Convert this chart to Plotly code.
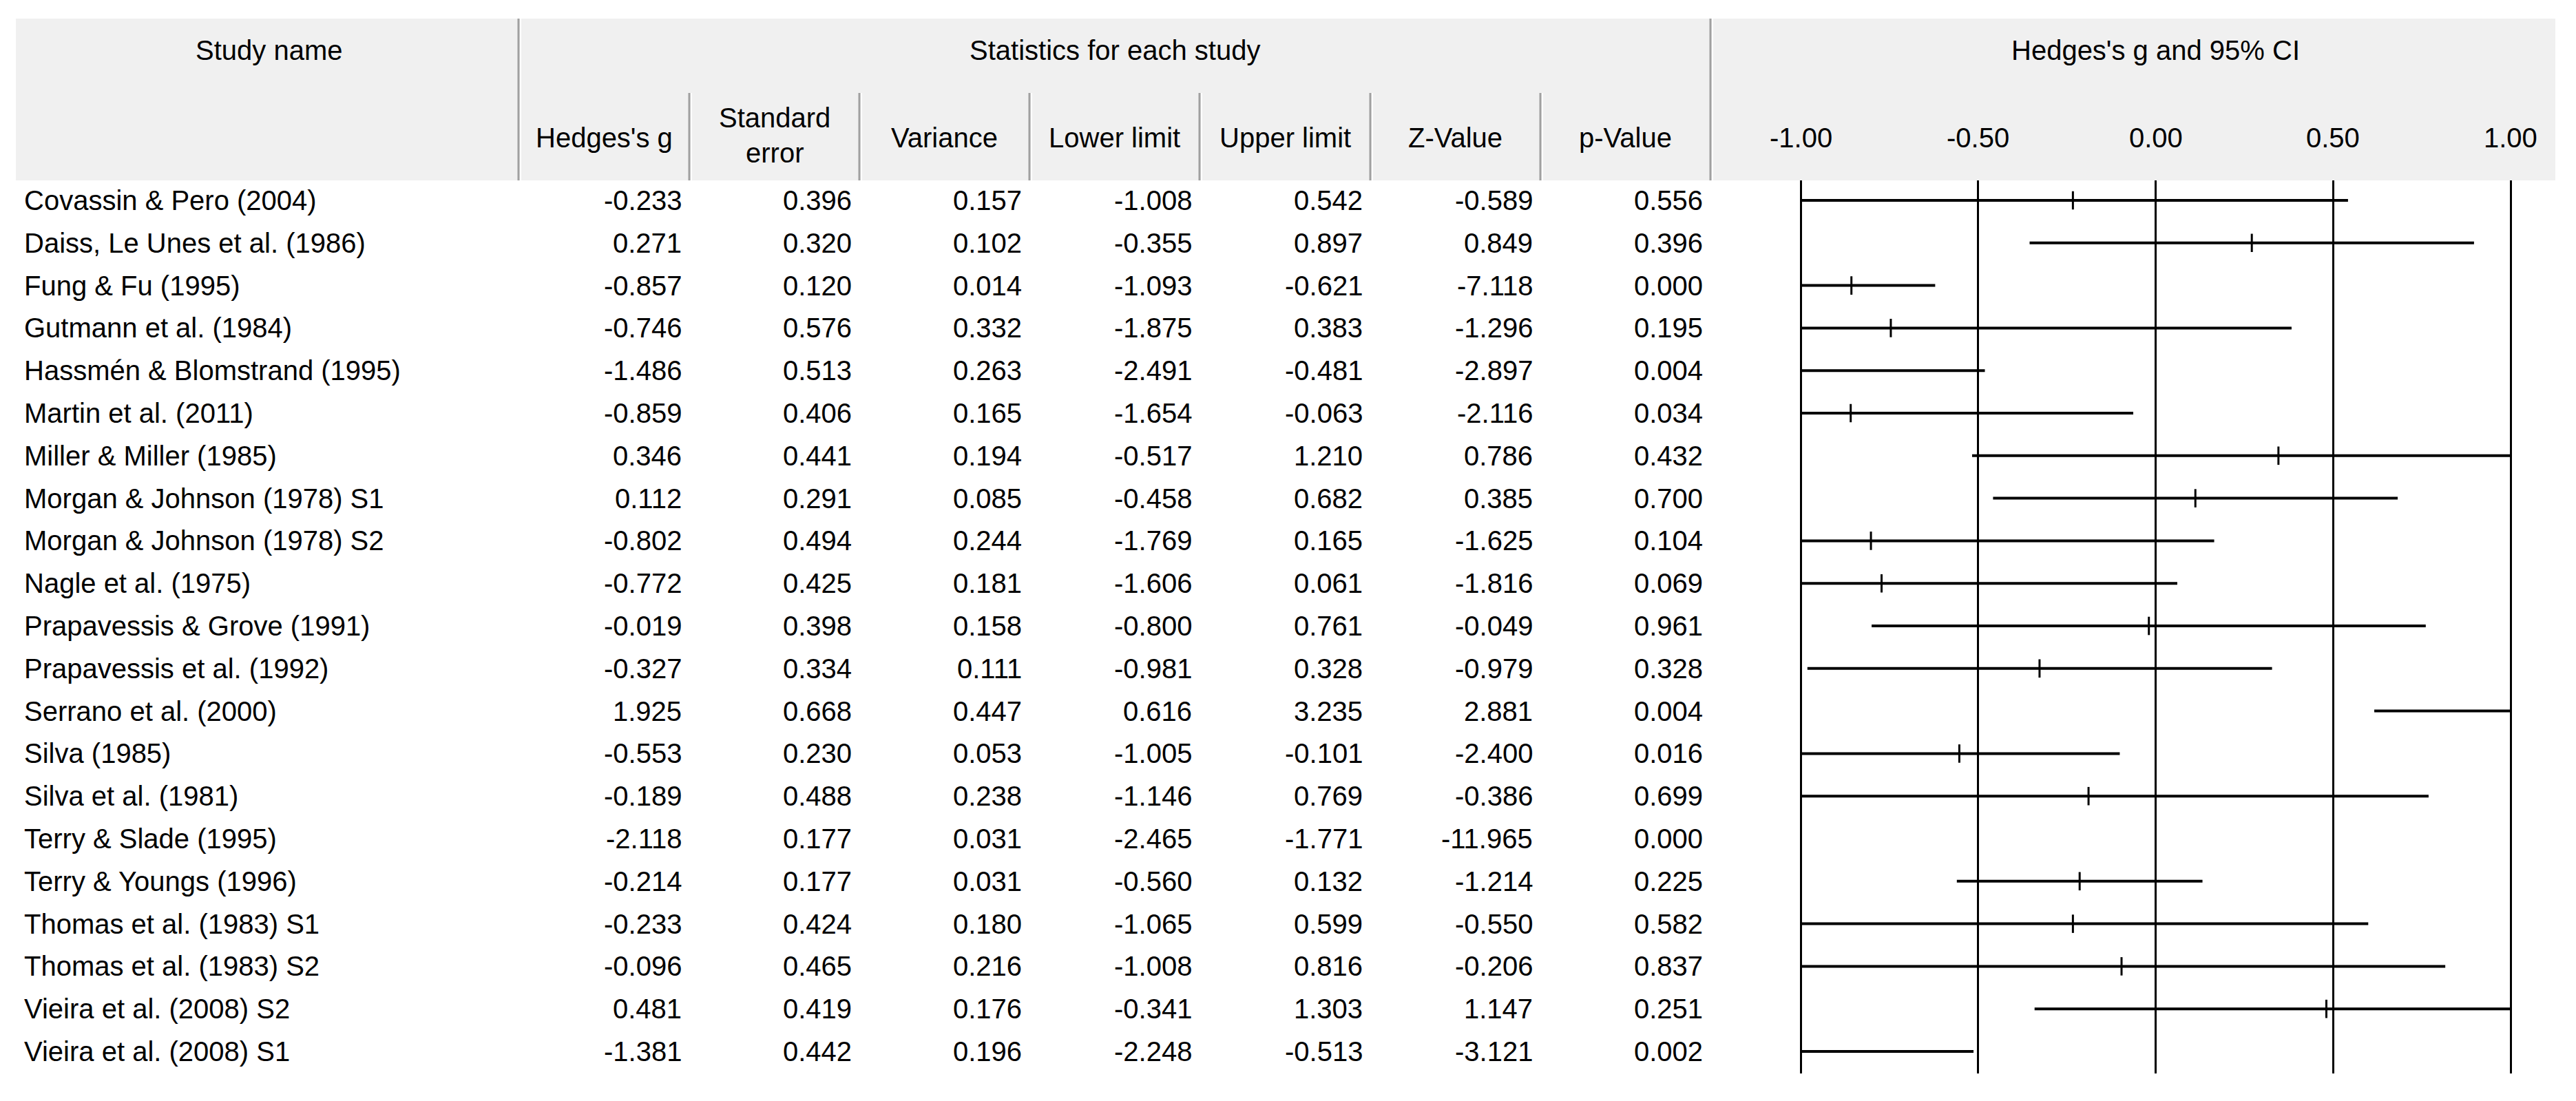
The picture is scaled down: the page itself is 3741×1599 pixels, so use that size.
import numpy as np
import plotly.graph_objects as go

# ---------------- data ----------------
studies = ["Covassin & Pero (2004)", "Daiss, Le Unes et al. (1986)", "Fung & Fu (1995)",
           "Gutmann et al. (1984)", "Hassmén & Blomstrand (1995)", "Martin et al. (2011)",
           "Miller & Miller (1985)", "Morgan & Johnson (1978) S1", "Morgan & Johnson (1978) S2",
           "Nagle et al. (1975)", "Prapavessis & Grove (1991)", "Prapavessis et al. (1992)",
           "Serrano et al. (2000)", "Silva (1985)", "Silva et al. (1981)", "Terry & Slade (1995)",
           "Terry & Youngs (1996)", "Thomas et al. (1983) S1", "Thomas et al. (1983) S2",
           "Vieira et al. (2008) S2", "Vieira et al. (2008) S1"]
hedges_g = [-0.233, 0.271, -0.857, -0.746, -1.486, -0.859, 0.346, 0.112, -0.802, -0.772, -0.019,
            -0.327, 1.925, -0.553, -0.189, -2.118, -0.214, -0.233, -0.096, 0.481, -1.381]
std_err = [0.396, 0.320, 0.120, 0.576, 0.513, 0.406, 0.441, 0.291, 0.494, 0.425, 0.398,
           0.334, 0.668, 0.230, 0.488, 0.177, 0.177, 0.424, 0.465, 0.419, 0.442]
variance = [0.157, 0.102, 0.014, 0.332, 0.263, 0.165, 0.194, 0.085, 0.244, 0.181, 0.158,
            0.111, 0.447, 0.053, 0.238, 0.031, 0.031, 0.180, 0.216, 0.176, 0.196]
lower = [-1.008, -0.355, -1.093, -1.875, -2.491, -1.654, -0.517, -0.458, -1.769, -1.606, -0.800,
         -0.981, 0.616, -1.005, -1.146, -2.465, -0.560, -1.065, -1.008, -0.341, -2.248]
upper = [0.542, 0.897, -0.621, 0.383, -0.481, -0.063, 1.210, 0.682, 0.165, 0.061, 0.761,
         0.328, 3.235, -0.101, 0.769, -1.771, 0.132, 0.599, 0.816, 1.303, -0.513]
z_value = [-0.589, 0.849, -7.118, -1.296, -2.897, -2.116, 0.786, 0.385, -1.625, -1.816, -0.049,
           -0.979, 2.881, -2.400, -0.386, -11.965, -1.214, -0.550, -0.206, 1.147, -3.121]
p_value = [0.556, 0.396, 0.000, 0.195, 0.004, 0.034, 0.432, 0.700, 0.104, 0.069, 0.961,
           0.328, 0.004, 0.016, 0.699, 0.000, 0.225, 0.582, 0.837, 0.251, 0.002]
axis_ticks = [-1.0, -0.5, 0.0, 0.5, 1.0]
axis_tick_labels = ["-1.00", "-0.50", "0.00", "0.50", "1.00"]
col_headers = ["Hedges's g", "Standard|error", "Variance", "Lower limit", "Upper limit", "Z-Value", "p-Value"]

# ---------------- layout geometry ----------------
OFF = 8  # default body margin of the html page
W, H = 3741 - OFF, 1599 - OFF
FONT = "Liberation Sans, Arial, sans-serif"
FS = 40

def px(x):
    return (x - OFF) / W

def py(y):
    return 1 - (y - OFF) / H

col_edges = [753, 1001, 1248, 1495, 1742, 1990, 2237, 2484]
HEAD_TOP, HEAD_MID, HEAD_BOT = 27, 135, 262
PLOT_BOT = 1559
ROW0, ROWSTEP = 291, 61.8
XL, XR = 2615, 3646  # pixel of -1 and +1
PAD = 0.02
upp = (XR - XL) / 2.0

fig = go.Figure()

# CI lines, clipped to the visible axis range
xs, ys = [], []
for i, (lo, hi) in enumerate(zip(lower, upper)):
    if hi < -1 or lo > 1:
        continue
    xs += [max(lo, -1.0), min(hi, 1.0), None]
    ys += [i, i, None]
fig.add_trace(go.Scatter(x=xs, y=ys, mode="lines", line=dict(color="black", width=4),
                         hoverinfo="skip", showlegend=False))

# point estimate ticks (only those inside the axis range)
gx = [g for g in hedges_g if -1 <= g <= 1]
gy = [i for i, g in enumerate(hedges_g) if -1 <= g <= 1]
fig.add_trace(go.Scatter(x=gx, y=gy, mode="markers",
                         marker=dict(symbol="line-ns", size=19, line=dict(color="black", width=3)),
                         hoverinfo="skip", showlegend=False))

shapes = []
# header background
shapes.append(dict(type="rect", xref="paper", yref="paper", x0=px(23), x1=px(3711),
                   y0=py(HEAD_BOT), y1=py(HEAD_TOP), fillcolor="#f0f0f0", line=dict(width=0), layer="below"))
# header dividers
for j, xe in enumerate(col_edges):
    top = HEAD_TOP if (j == 0 or j == len(col_edges) - 1) else HEAD_MID
    shapes.append(dict(type="line", xref="paper", yref="paper", x0=px(xe), x1=px(xe),
                       y0=py(HEAD_BOT), y1=py(top), line=dict(color="#a0a0a0", width=3)))
    shapes.append(dict(type="line", xref="paper", yref="paper", x0=px(xe + 3), x1=px(xe + 3),
                       y0=py(HEAD_BOT), y1=py(top), line=dict(color="#ffffff", width=2)))

annotations = []

def ann(text, x, y, xanchor="center", xref="paper", yref="paper"):
    annotations.append(dict(text=text, x=x, y=y, xref=xref, yref=yref, xanchor=xanchor,
                            yanchor="middle", showarrow=False,
                            font=dict(family=FONT, size=FS, color="black")))

# top header
ann("Study name", px(390), py(73))
ann("Statistics for each study", px((col_edges[0] + col_edges[-1]) / 2), py(73))
ann("Hedges's g and 95% CI", 0.0, py(73), xref="x")
# sub headers
for j, h in enumerate(col_headers):
    cx = px((col_edges[j] + col_edges[j + 1]) / 2)
    parts = h.split("|")
    if len(parts) == 1:
        ann(parts[0], cx, py(200))
    else:
        ann(parts[0], cx, py(171))
        ann(parts[1], cx, py(222))
# axis tick labels in the header
for tv, tl in zip(axis_ticks, axis_tick_labels):
    ann(tl, tv, py(200), xref="x")

# table body
cols = [hedges_g, std_err, variance, lower, upper, z_value, p_value]
for i, name in enumerate(studies):
    ann(name, px(33), i, xanchor="left", yref="y")
    for j, col in enumerate(cols):
        ann(f"{col[i]:.3f}", px(col_edges[j + 1] - 9), i, xanchor="right", yref="y")

y_top = (HEAD_BOT - ROW0) / ROWSTEP
y_bot = (PLOT_BOT - ROW0) / ROWSTEP

fig.update_layout(
    width=W, height=H,
    margin=dict(l=0, r=0, t=0, b=0),
    paper_bgcolor="white", plot_bgcolor="white",
    shapes=shapes, annotations=annotations,
    xaxis=dict(domain=[px(XL - PAD * upp), px(XR + PAD * upp)], range=[-1 - PAD, 1 + PAD],
               tickvals=axis_ticks, showticklabels=False, ticks="",
               showgrid=True, gridcolor="black", gridwidth=3,
               zeroline=False, showline=False, fixedrange=True),
    yaxis=dict(domain=[py(PLOT_BOT), py(HEAD_BOT)], range=[y_bot, y_top],
               showticklabels=False, showgrid=False, zeroline=False, showline=False,
               ticks="", fixedrange=True),
    showlegend=False,
)

fig.write_html("out.html")
